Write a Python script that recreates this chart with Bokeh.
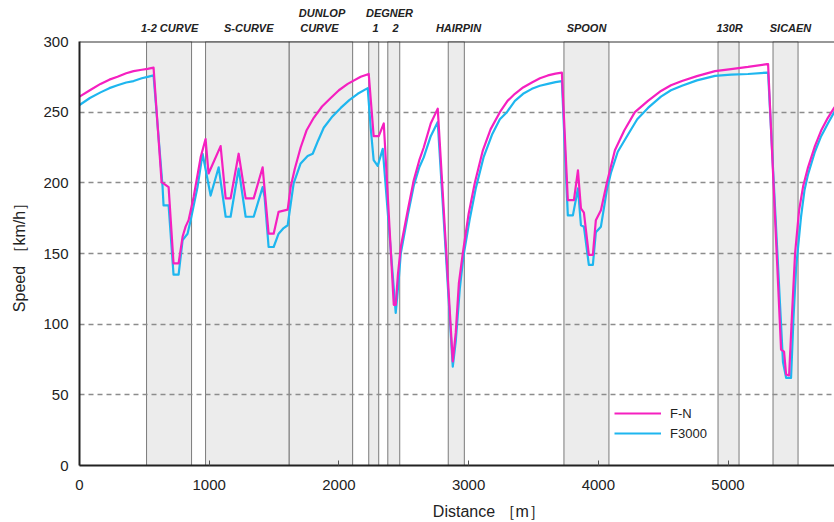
from bokeh.plotting import figure
from bokeh.models import (FixedTicker, Span, Legend, LegendItem, LinearAxis, Range1d)
from bokeh.embed import file_html
from bokeh.resources import INLINE

# ---------------- data ----------------
dist_fn = [0, 80, 162, 230, 293, 360, 417, 480, 525, 571, 633, 687, 725, 764, 795, 818, 841,
           880, 934, 972, 995, 1088, 1127, 1165, 1227, 1281, 1343, 1412, 1458, 1497, 1535,
           1605, 1628, 1660, 1705, 1750, 1806, 1870, 1937, 2000, 2068, 2168, 2230, 2268,
           2307, 2346, 2423, 2438, 2455, 2477, 2531, 2577, 2620, 2654, 2708, 2762, 2878,
           2901, 2925, 2955, 3000, 3048, 3110, 3170, 3241, 3300, 3357, 3420, 3488, 3550,
           3611, 3670, 3719, 3765, 3812, 3843, 3866, 3889, 3927, 3958, 3981, 4020, 4066,
           4128, 4200, 4282, 4383, 4483, 4560, 4645, 4760, 4900, 5023, 5154, 5301, 5309,
           5409, 5432, 5448, 5471, 5495, 5517, 5548, 5580, 5617, 5670, 5718, 5770, 5818,
           5864]
speed_fn = [261, 265.5, 270, 273, 275, 277.5, 279, 280, 280.6, 281.5, 200.5, 197, 143, 143,
            162, 169, 173.6, 190, 218, 231, 206.6, 226, 189, 189, 220.6, 189, 189, 211, 164,
            164, 179.5, 181, 197, 210, 225, 237, 246, 254, 260, 265.5, 270, 275, 277, 233,
            233, 242, 113.7, 113.7, 135, 154.6, 180.6, 201.8, 216, 225, 242, 252.5, 73.6,
            94, 129, 150, 178, 200, 223, 238, 250, 258, 263, 267.5, 271, 274,
            276, 277.3, 278, 187.7, 187.7, 208.8, 182, 179, 149, 149, 173.6, 180.6, 200,
            223, 237, 250, 258, 265, 269, 272, 275.5, 279, 280.5, 282, 284, 284,
            82, 80.6, 64.4, 63.7, 110, 150, 180.6, 198, 211, 226, 237, 246, 253,
            259]

dist_f3000 = [0, 80, 162, 230, 293, 360, 417, 480, 525, 571, 640, 648, 687, 725, 764, 795,
              833, 857, 910, 949, 1011, 1073, 1127, 1165, 1227, 1281, 1343, 1412, 1427, 1458,
              1497, 1535, 1574, 1605, 1651, 1705, 1759, 1798, 1840, 1883, 1950, 2014, 2080,
              2145, 2222, 2245, 2268, 2299, 2338, 2438, 2460, 2477, 2531, 2577, 2620, 2654,
              2708, 2762, 2878, 2901, 2932, 2960, 3010, 3055, 3115, 3180, 3241, 3295, 3357,
              3420, 3488, 3550, 3611, 3670, 3719, 3765, 3804, 3843, 3866, 3889, 3927, 3958,
              3981, 4020, 4066, 4097, 4150, 4228, 4300, 4383, 4483, 4560, 4645, 4760, 4900,
              5023, 5154, 5301, 5309, 5424, 5448, 5486, 5505, 5525, 5563, 5590, 5617, 5670,
              5718, 5770, 5818, 5864]
speed_f3000 = [255, 260, 264, 267, 269, 271, 272, 274, 275, 276, 198, 184, 184, 135, 135,
               159.5, 164, 173.6, 197, 220.6, 191, 211, 176, 176, 210, 176, 176, 197, 190,
               154.6, 154.6, 164, 168, 170, 199.6, 213.7, 219, 220.6, 230, 239, 247, 253,
               258.5, 263, 267, 239, 216, 212, 224, 108, 130, 150, 177, 198, 211, 218,
               233, 243, 70, 88, 125, 148, 175, 196, 218, 234, 245, 250, 258,
               263, 266.5, 268.7, 270, 271.3, 272, 177, 177, 196, 170, 169, 142, 142,
               165, 169, 195, 207, 222, 234, 245, 253, 261, 265.5, 268.7, 272.5, 275.7,
               276.5, 277, 278, 278, 73, 62, 62, 105, 140, 176, 195, 206, 222,
               233, 242, 250, 256]

band_start = [517, 972, 1617, 2230, 2377, 2843, 3735, 4923, 5347]
band_end = [864, 1617, 2106, 2307, 2469, 2967, 4082, 5085, 5540]

# corner names: lower row (next to the frame) and upper row
corner_names_low = ["1-2 CURVE", "S-CURVE", "CURVE", "1", "2",
                    "HAIRPIN", "SPOON", "130R", "SICAEN"]
corner_x_low = [695, 1305, 1850, 2282, 2436, 2922, 3909, 5012, 5482]
corner_names_high = ["DUNLOP", "DEGNER"]
corner_x_high = [1870, 2390]

y_ticks = [0, 50, 100, 150, 200, 250, 300]
x_ticks = [0, 1000, 2000, 3000, 4000, 5000]
x_title = "Distance ［m］"
x_title_pos = 3156
y_title = "Speed ［km/h］"

FONT = "Liberation Sans"
MAG = "#f520c0"
CYAN = "#1eb6ef"
TXT = "#222222"

# ---------------- figure ----------------
p = figure(width=834, height=522, output_backend="svg", toolbar_location=None,
           x_range=Range1d(0, 5821), y_range=Range1d(0, 300),
           min_border_left=79, min_border_right=0, min_border_top=41,
           min_border_bottom=56)
p.outline_line_color = None
p.background_fill_color = "white"
p.border_fill_color = "white"

# shaded corner bands
p.quad(left=band_start, right=band_end, bottom=0, top=300,
       fill_color="#ececec", line_color="#7a7a7a", line_width=1, level="image")

# grid
p.xgrid.visible = False
p.ygrid.ticker = FixedTicker(ticks=y_ticks[1:-1])
p.ygrid.grid_line_color = "#8c8c8c"
p.ygrid.grid_line_dash = "5 4"
p.ygrid.grid_line_width = 1.5

# series
r_c = p.line(dist_f3000, speed_f3000, line_color=CYAN, line_width=2.2, line_join="round")
r_m = p.line(dist_fn, speed_fn, line_color=MAG, line_width=2.2, line_join="round")

# top border
p.add_layout(Span(location=300, dimension="width", line_color="#333333", line_width=2))

# main axes
for ax in (p.xaxis[0], p.yaxis[0]):
    ax.axis_line_color = TXT
    ax.axis_line_width = 2
    ax.minor_tick_line_color = None
    ax.major_label_text_font = FONT
    ax.major_label_text_font_size = "15px"
    ax.major_label_text_color = TXT
    ax.axis_label_text_font = FONT
    ax.axis_label_text_font_style = "normal"
    ax.axis_label_text_font_size = "16px"
    ax.axis_label_text_color = TXT

p.xaxis.ticker = FixedTicker(ticks=x_ticks)
p.xaxis.major_tick_in = 5
p.xaxis.major_tick_out = 0
p.xaxis.major_tick_line_color = "#555555"
p.xaxis.major_label_standoff = 14

p.yaxis.ticker = FixedTicker(ticks=y_ticks)
p.yaxis.major_tick_in = 0
p.yaxis.major_tick_out = 0
p.yaxis.major_label_standoff = 11
p.yaxis.axis_label = y_title
p.yaxis.axis_label_standoff = 12


def text_axis(ticks, names, standoff, size, style):
    ax = LinearAxis(ticker=FixedTicker(ticks=ticks),
                    major_label_overrides={t: n for t, n in zip(ticks, names)})
    ax.axis_line_color = None
    ax.major_tick_line_color = None
    ax.minor_tick_line_color = None
    ax.major_tick_in = 0
    ax.major_tick_out = 0
    ax.major_label_standoff = standoff
    ax.major_label_text_font = FONT
    ax.major_label_text_font_size = size
    ax.major_label_text_font_style = style
    ax.major_label_text_color = TXT
    return ax


# x axis title placed as a text row below the tick labels
p.add_layout(text_axis([x_title_pos], [x_title], 10, "16px", "normal"), "below")

# corner labels above the frame (two rows)
p.add_layout(text_axis(corner_x_low, corner_names_low, 8, "11px", "bold italic"), "above")
p.add_layout(text_axis(corner_x_high, corner_names_high, 0, "11px", "bold italic"), "above")

# legend
legend = Legend(items=[LegendItem(label="F-N", renderers=[r_m]),
                       LegendItem(label="F3000", renderers=[r_c])],
                location=(535, 22), glyph_width=47, glyph_height=20, label_height=20,
                spacing=0, padding=0, margin=0, label_standoff=9,
                border_line_color=None, background_fill_alpha=0,
                label_text_font=FONT, label_text_font_size="13px",
                label_text_color=TXT)
p.add_layout(legend)

open("out.html", "w").write(file_html(p, INLINE))
